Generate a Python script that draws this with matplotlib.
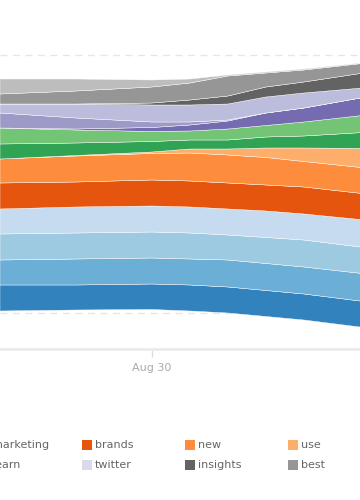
import numpy as np
import matplotlib
matplotlib.use('Agg')
import matplotlib.pyplot as plt
import matplotlib.dates as mdates
from matplotlib.patches import Rectangle
import datetime as dt

# sample times
times = [dt.datetime(2013, 8, 29, 0), dt.datetime(2013, 8, 29, 12),
         dt.datetime(2013, 8, 30, 0), dt.datetime(2013, 8, 30, 6),
         dt.datetime(2013, 8, 30, 12), dt.datetime(2013, 8, 30, 18),
         dt.datetime(2013, 8, 31, 0), dt.datetime(2013, 8, 31, 12)]

# stream offset under the first layer
offset = [38, 39, 39.5, 38, 36, 32.5, 29, 19.5]

# layers, bottom -> top
layer_colors = ['#3182bd', '#6baed6', '#9ecae1', '#c6dbef', '#e6550d', '#fd8d3c',
                '#fdae6b', '#31a354', '#74c476', '#756bb1', '#9e9ac8', '#bcbddc',
                '#636363', '#969696', '#bdbdbd']
s0 = [26, 25, 25.5, 26, 26, 26, 26, 26]
s1 = [25, 26, 26, 26, 27, 27, 27, 28]
s2 = [26, 26, 26, 26, 25, 26, 27, 26]
marketing = [25, 26, 26, 26, 26, 26.5, 26, 28]
brands = [26, 25, 26, 26, 26, 26, 27, 26]
new = [24, 26, 26.5, 28, 28, 27.5, 25.5, 26]
use = [0, 0.5, 1.5, 4, 6, 9.5, 13.5, 21]
s8 = [15, 12.5, 10.5, 9, 9, 11, 12, 17]
s9 = [16, 13, 10, 9, 11, 11.5, 14, 18]
s12 = [0, 1, 4, 6, 8, 12.5, 14, 19]
s13 = [15, 11, 5.5, 3, 1, 0, 0, 0]
learn = [9, 14, 17, 17, 16, 16, 15, 8]
insights = [0, 0, 2, 5, 8, 10, 11, 16]
best = [10, 13, 16, 17, 20, 14, 12, 9]
s18 = [15, 12, 7, 4, 1, 1, 1, 0.5]
layers = [s0, s1, s2, marketing, brands, new, use, s8, s9, s12, s13, learn, insights, best, s18]

# legend (only the part that is in view)
leg_names = [['marketing', 'brands', 'new', 'use'],
             ['learn', 'twitter', 'insights', 'best']]
leg_colors = [['#c6dbef', '#e6550d', '#fd8d3c', '#fdae6b'],
              ['#bcbddc', '#dadaeb', '#636363', '#969696']]

x = mdates.date2num(times)
px_per_day = 152.0
x_aug30 = mdates.date2num(dt.datetime(2013, 8, 30))

fig = plt.figure(figsize=(3.6, 5), dpi=100)
ax = fig.add_axes([0, 151 / 500., 1, 349 / 500.])

bottom = np.array(offset, dtype=float)
for vals, c in zip(layers, layer_colors):
    top = bottom + np.array(vals, dtype=float)
    ax.fill_between(x, bottom, top, facecolor=c, edgecolor='white', linewidth=0.3, zorder=2)
    bottom = top

ax.set_xlim(x_aug30 - 152 / px_per_day, x_aug30 + 208 / px_per_day)
ax.set_ylim(0, 349)

# dashed grid lines
ax.set_yticks([36, 165, 294])
ax.yaxis.grid(True, linestyle=(0, (5, 4)), color='#e6e6e6', linewidth=1, zorder=0)
ax.tick_params(axis='y', left=False, labelleft=False)

ax.xaxis.set_major_locator(mdates.DayLocator(bymonthday=30))
ax.xaxis.set_major_formatter(mdates.DateFormatter('%b %d'))
ax.tick_params(axis='x', length=6, width=1, color='#dddddd', labelcolor='#aaaaaa',
               labelsize=8, pad=4)

for s in ['top', 'left', 'right']:
    ax.spines[s].set_visible(False)
ax.spines['bottom'].set_color('#ebebeb')
ax.spines['bottom'].set_linewidth(2)

col_x = [-21, 82, 185, 288]
row_y = [445, 465]
for r in range(2):
    for c in range(4):
        sx = col_x[c]
        sy = row_y[r]
        fig.add_artist(Rectangle((sx / 360., 1 - (sy + 5) / 500.), 10 / 360., 10 / 500.,
                                 transform=fig.transFigure, facecolor=leg_colors[r][c],
                                 edgecolor='none'))
        fig.text((sx + 13) / 360., 1 - sy / 500., leg_names[r][c], fontsize=8,
                 color='#666666', va='center', ha='left')

fig.savefig('out.png', dpi=100)
